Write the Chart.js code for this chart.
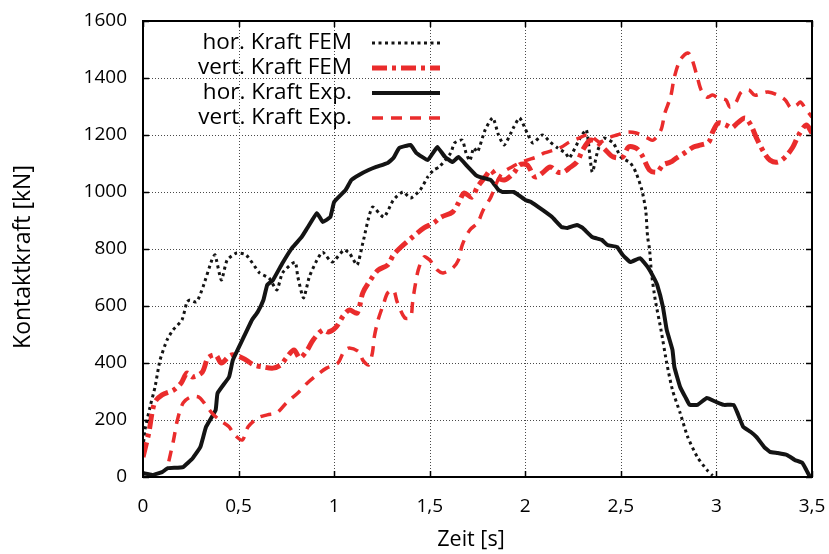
<!DOCTYPE html>
<html>
<head>
<meta charset="utf-8">
<title>Kontaktkraft</title>
<script src="https://cdn.jsdelivr.net/npm/chart.js@4/dist/chart.umd.min.js"></script>
<style>
  html, body { margin: 0; padding: 0; background: #ffffff; }
  #wrap { width: 829px; height: 554px; }
</style>
</head>
<body>
<div id="wrap"><canvas id="chart" width="829" height="554"></canvas></div>
<script>
// Axis ticks
const xTickValues = [0, 0.5, 1, 1.5, 2, 2.5, 3, 3.5];
const xTickLabels = ['0', '0,5', '1', '1,5', '2', '2,5', '3', '3,5'];
const yTickValues = [0, 200, 400, 600, 800, 1000, 1200, 1400, 1600];
const yTickLabels = ['0', '200', '400', '600', '800', '1000', '1200', '1400', '1600'];

// Axis titles and series labels
const xTitle = 'Zeit [s]';
const yTitle = 'Kontaktkraft [kN]';
const seriesLabels = ['hor. Kraft FEM', 'vert. Kraft FEM', 'hor. Kraft Exp.', 'vert. Kraft Exp.'];

// hor. Kraft FEM: time [s] and force [kN]
const horFemT = [0, 0.01, 0.037, 0.063, 0.089, 0.126, 0.157, 0.204, 0.23, 0.246, 0.28, 0.314, 0.36, 0.377, 0.41, 0.44, 0.49, 0.54, 0.61, 0.66, 0.70, 0.73, 0.795, 0.81, 0.84, 0.87, 0.91, 0.94, 0.99, 1.05, 1.08, 1.12, 1.15, 1.20, 1.26, 1.31, 1.36, 1.40, 1.45, 1.49, 1.52, 1.55, 1.61, 1.63, 1.67, 1.69, 1.71, 1.73, 1.75, 1.79, 1.83, 1.86, 1.89, 1.94, 1.97, 2.01, 2.04, 2.09, 2.13, 2.17, 2.21, 2.23, 2.29, 2.32, 2.35, 2.38, 2.41, 2.46, 2.50, 2.55, 2.58, 2.61, 2.63, 2.64, 2.65, 2.66, 2.68, 2.71, 2.74, 2.77, 2.81, 2.85, 2.90, 2.95, 2.98];
const horFemV = [100, 165, 246, 316, 410, 481, 516, 551, 614, 621, 614, 667, 761, 779, 691, 761, 786, 779, 716, 698, 656, 716, 754, 702, 628, 702, 761, 789, 754, 796, 786, 744, 821, 947, 912, 972, 1000, 979, 1007, 1053, 1077, 1088, 1137, 1172, 1182, 1137, 1110, 1155, 1140, 1218, 1260, 1200, 1165, 1228, 1260, 1207, 1172, 1200, 1175, 1154, 1137, 1119, 1193, 1218, 1070, 1147, 1189, 1172, 1123, 1102, 1067, 1007, 937, 842, 800, 716, 621, 516, 400, 305, 225, 140, 70, 25, 5];

// vert. Kraft FEM
const vertFemT = [0, 0.03, 0.06, 0.10, 0.16, 0.20, 0.23, 0.26, 0.31, 0.34, 0.38, 0.41, 0.46, 0.51, 0.54, 0.58, 0.63, 0.68, 0.72, 0.75, 0.79, 0.82, 0.86, 0.89, 0.94, 0.97, 1.01, 1.05, 1.08, 1.12, 1.15, 1.19, 1.23, 1.28, 1.31, 1.35, 1.41, 1.47, 1.52, 1.56, 1.62, 1.65, 1.68, 1.72, 1.75, 1.79, 1.82, 1.85, 1.89, 1.94, 1.97, 2.01, 2.05, 2.09, 2.13, 2.17, 2.20, 2.23, 2.27, 2.30, 2.34, 2.38, 2.42, 2.46, 2.51, 2.54, 2.58, 2.61, 2.65, 2.69, 2.72, 2.76, 2.79, 2.84, 2.88, 2.92, 2.96, 2.98, 3.01, 3.05, 3.08, 3.11, 3.15, 3.18, 3.21, 3.25, 3.28, 3.32, 3.36, 3.40, 3.43, 3.47, 3.50];
const vertFemV = [70, 154, 260, 288, 305, 330, 365, 351, 368, 418, 428, 400, 428, 421, 410, 393, 386, 382, 393, 418, 446, 418, 446, 481, 516, 509, 526, 568, 586, 575, 646, 691, 726, 744, 779, 807, 842, 874, 891, 912, 930, 961, 996, 982, 1018, 1053, 1077, 1053, 1042, 1067, 1095, 1095, 1053, 1067, 1088, 1070, 1070, 1084, 1105, 1147, 1182, 1172, 1147, 1123, 1123, 1158, 1154, 1130, 1077, 1070, 1095, 1105, 1119, 1140, 1158, 1165, 1175, 1210, 1242, 1235, 1225, 1242, 1260, 1235, 1189, 1137, 1112, 1105, 1123, 1158, 1200, 1235, 1207];

// hor. Kraft Exp.
const horExpT = [0, 0.05, 0.10, 0.13, 0.21, 0.26, 0.30, 0.33, 0.38, 0.39, 0.45, 0.47, 0.52, 0.57, 0.60, 0.63, 0.65, 0.68, 0.73, 0.78, 0.83, 0.86, 0.91, 0.94, 0.98, 1.00, 1.06, 1.09, 1.13, 1.18, 1.22, 1.28, 1.31, 1.34, 1.40, 1.43, 1.49, 1.52, 1.54, 1.58, 1.62, 1.65, 1.70, 1.74, 1.76, 1.82, 1.86, 1.88, 1.94, 2.00, 2.03, 2.09, 2.14, 2.19, 2.22, 2.27, 2.30, 2.35, 2.40, 2.43, 2.48, 2.51, 2.55, 2.60, 2.64, 2.67, 2.69, 2.72, 2.74, 2.77, 2.78, 2.81, 2.84, 2.86, 2.90, 2.95, 3.00, 3.04, 3.09, 3.11, 3.14, 3.18, 3.21, 3.25, 3.28, 3.32, 3.37, 3.41, 3.45, 3.47, 3.49];
const horExpV = [13, 7, 17, 31, 35, 66, 105, 176, 235, 294, 351, 410, 481, 551, 579, 621, 674, 691, 751, 804, 842, 874, 926, 895, 912, 965, 1007, 1042, 1060, 1077, 1088, 1102, 1119, 1154, 1165, 1137, 1112, 1140, 1158, 1123, 1105, 1123, 1088, 1060, 1053, 1042, 1007, 1000, 1000, 972, 965, 937, 912, 877, 874, 884, 874, 842, 832, 814, 807, 779, 754, 768, 737, 702, 674, 597, 516, 446, 386, 316, 277, 253, 253, 277, 263, 253, 253, 225, 176, 158, 140, 105, 88, 84, 77, 60, 49, 25, 0];

// vert. Kraft Exp.
const vertExpT = [0.135, 0.16, 0.18, 0.21, 0.25, 0.29, 0.32, 0.36, 0.40, 0.45, 0.48, 0.52, 0.55, 0.60, 0.65, 0.70, 0.75, 0.81, 0.86, 0.91, 0.96, 1.02, 1.05, 1.08, 1.13, 1.15, 1.18, 1.20, 1.21, 1.23, 1.26, 1.28, 1.31, 1.33, 1.37, 1.40, 1.41, 1.42, 1.44, 1.47, 1.50, 1.54, 1.57, 1.62, 1.65, 1.67, 1.71, 1.75, 1.78, 1.82, 1.85, 1.88, 1.93, 1.97, 2.01, 2.06, 2.10, 2.15, 2.19, 2.23, 2.28, 2.32, 2.35, 2.39, 2.43, 2.48, 2.53, 2.58, 2.64, 2.67, 2.71, 2.73, 2.76, 2.78, 2.81, 2.85, 2.87, 2.90, 2.92, 2.95, 2.98, 3.01, 3.05, 3.07, 3.10, 3.13, 3.17, 3.20, 3.24, 3.27, 3.32, 3.36, 3.39, 3.42, 3.44, 3.47, 3.50];
const vertExpV = [55, 130, 200, 260, 281, 281, 260, 225, 200, 176, 147, 130, 176, 207, 218, 225, 260, 295, 330, 358, 382, 400, 439, 453, 439, 410, 393, 435, 491, 551, 610, 646, 656, 614, 558, 561, 610, 656, 726, 772, 761, 726, 716, 733, 761, 814, 867, 891, 937, 982, 1032, 1067, 1088, 1102, 1112, 1123, 1137, 1147, 1158, 1175, 1189, 1200, 1193, 1175, 1189, 1200, 1210, 1207, 1189, 1182, 1218, 1277, 1333, 1403, 1463, 1488, 1470, 1403, 1358, 1333, 1340, 1330, 1323, 1298, 1312, 1351, 1358, 1340, 1347, 1351, 1340, 1323, 1295, 1305, 1316, 1288, 1263];

const RED = '#ea2c2c';
const BLACK = '#141414';
const FONT = "'Open Sans', 'DejaVu Sans', sans-serif";

function pairs(ts, vs) {
  return ts.map((t, i) => ({ x: t, y: vs[i] }));
}

// Dotted grid behind the curves
const gridPlugin = {
  id: 'dottedGrid',
  beforeDatasetsDraw(chart) {
    const { ctx, chartArea: a, scales } = chart;
    ctx.save();
    ctx.strokeStyle = '#4a4a4a';
    ctx.lineWidth = 1;
    ctx.setLineDash([1, 2]);
    ctx.beginPath();
    xTickValues.forEach(v => {
      const px = Math.round(scales.x.getPixelForValue(v)) + 0.5;
      ctx.moveTo(px, a.top); ctx.lineTo(px, a.bottom);
    });
    yTickValues.forEach(v => {
      const py = Math.round(scales.y.getPixelForValue(v)) + 0.5;
      ctx.moveTo(a.left, py); ctx.lineTo(a.right, py);
    });
    ctx.stroke();
    ctx.restore();
  }
};

// Frame, inward tick marks, axis titles and the key in the upper left
const framePlugin = {
  id: 'frameAndKey',
  afterDraw(chart) {
    const { ctx, chartArea: a, scales } = chart;
    const len = 6;
    ctx.save();
    ctx.strokeStyle = '#000';
    ctx.lineWidth = 1.5;
    ctx.setLineDash([]);
    ctx.beginPath();
    xTickValues.forEach(v => {
      const px = Math.round(scales.x.getPixelForValue(v)) + 0.5;
      ctx.moveTo(px, a.bottom); ctx.lineTo(px, a.bottom - len);
      ctx.moveTo(px, a.top); ctx.lineTo(px, a.top + len);
    });
    yTickValues.forEach(v => {
      const py = Math.round(scales.y.getPixelForValue(v)) + 0.5;
      ctx.moveTo(a.left, py); ctx.lineTo(a.left + len, py);
      ctx.moveTo(a.right, py); ctx.lineTo(a.right - len, py);
    });
    ctx.stroke();
    ctx.lineWidth = 2;
    ctx.strokeRect(a.left, a.top, a.right - a.left, a.bottom - a.top);

    // axis titles
    ctx.fillStyle = '#000';
    ctx.textAlign = 'center';
    ctx.textBaseline = 'middle';
    ctx.font = '21.5px ' + FONT;
    ctx.fillText(xTitle, 471, 540);
    ctx.save();
    ctx.translate(23, 257);
    ctx.rotate(-Math.PI / 2);
    ctx.font = '23px ' + FONT;
    ctx.fillText(yTitle, 0, 0);
    ctx.restore();

    // key: right-aligned text with a line sample to its right
    const textRight = 352;
    const lineX0 = 372, lineX1 = 440;
    const y0 = 43, step = 25;
    ctx.font = '22.5px ' + FONT;
    ctx.textAlign = 'right';
    ctx.textBaseline = 'middle';
    chart.data.datasets.forEach((ds, i) => {
      const y = y0 + i * step;
      ctx.fillStyle = '#000';
      ctx.fillText(ds.label, textRight, y);
      ctx.strokeStyle = ds.borderColor;
      ctx.lineWidth = ds.borderWidth;
      ctx.setLineDash(ds.borderDash || []);
      ctx.lineCap = ds.borderCapStyle || 'butt';
      ctx.beginPath();
      ctx.moveTo(lineX0, y);
      ctx.lineTo(lineX1, y);
      ctx.stroke();
    });
    ctx.restore();
  }
};

new Chart(document.getElementById('chart'), {
  type: 'line',
  data: {
    datasets: [
      {
        label: seriesLabels[0],
        data: pairs(horFemT, horFemV),
        borderColor: BLACK,
        borderWidth: 3,
        borderDash: [3, 3.5],
        tension: 0.2,
        pointRadius: 0,
        order: 4
      },
      {
        label: seriesLabels[1],
        data: pairs(vertFemT, vertFemV),
        borderColor: RED,
        borderWidth: 5,
        borderDash: [15, 5, 4, 5],
        tension: 0.3,
        pointRadius: 0,
        order: 3
      },
      {
        label: seriesLabels[2],
        data: pairs(horExpT, horExpV),
        borderColor: BLACK,
        borderWidth: 4,
        borderDash: [],
        tension: 0.1,
        pointRadius: 0,
        order: 2
      },
      {
        label: seriesLabels[3],
        data: pairs(vertExpT, vertExpV),
        borderColor: RED,
        borderWidth: 3.5,
        borderDash: [11, 8],
        tension: 0.3,
        pointRadius: 0,
        order: 1
      }
    ]
  },
  options: {
    responsive: false,
    devicePixelRatio: 1,
    animation: false,
    layout: { padding: { left: 0, top: 21, right: 17, bottom: 0 } },
    plugins: {
      legend: { display: false },
      tooltip: { enabled: false }
    },
    scales: {
      x: {
        type: 'linear',
        min: 0,
        max: 3.5,
        afterFit(scale) {
          scale.height = 77;
          scale.paddingLeft = 0;
          scale.paddingRight = 0;
        },
        afterBuildTicks(scale) { scale.ticks = xTickValues.map(v => ({ value: v })); },
        ticks: {
          padding: 18,
          color: '#000',
          font: { family: FONT, size: 19 },
          maxRotation: 0,
          callback: (v) => xTickLabels[xTickValues.indexOf(v)]
        },
        grid: { display: false, drawTicks: false },
        border: { display: false },
        title: { display: false }
      },
      y: {
        type: 'linear',
        min: 0,
        max: 1600,
        afterFit(scale) {
          scale.width = 143;
          scale.paddingTop = 0;
          scale.paddingBottom = 0;
        },
        afterBuildTicks(scale) { scale.ticks = yTickValues.map(v => ({ value: v })); },
        ticks: {
          padding: 16,
          color: '#000',
          font: { family: FONT, size: 19 },
          callback: (v) => yTickLabels[yTickValues.indexOf(v)]
        },
        grid: { display: false, drawTicks: false },
        border: { display: false },
        title: { display: false }
      }
    }
  },
  plugins: [gridPlugin, framePlugin]
});
</script>
</body>
</html>
